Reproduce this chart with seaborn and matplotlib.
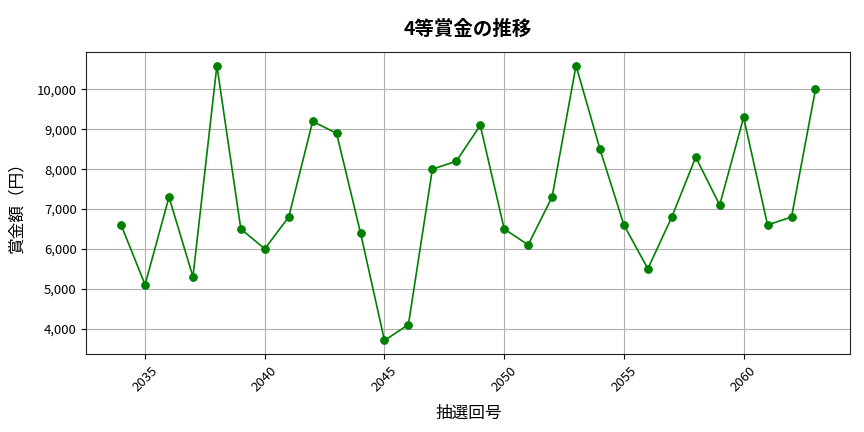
import matplotlib
matplotlib.use("Agg")
import matplotlib.pyplot as plt
import matplotlib.ticker as mticker
import seaborn as sns
import pandas as pd

# 抽選回と4等賞金
draws = list(range(2034, 2064))
prizes = [6600, 5100, 7300, 5300, 10600, 6500, 6000, 6800, 9200, 8900,
          6400, 3700, 4100, 8000, 8200, 9100, 6500, 6100, 7300, 10600,
          8500, 6600, 5500, 6800, 8300, 7100, 9300, 6600, 6800, 10000]

df = pd.DataFrame({"draw": draws, "prize": prizes})

sns.set_style("ticks")
plt.rcParams['font.family'] = ['Noto Sans CJK JP', 'DejaVu Sans']
plt.rcParams['text.color'] = 'black'
plt.rcParams['axes.labelcolor'] = 'black'
plt.rcParams['xtick.color'] = 'black'
plt.rcParams['ytick.color'] = 'black'

fig, ax = plt.subplots(figsize=(8.64, 4.32), dpi=100)
sns.lineplot(data=df, x="draw", y="prize", ax=ax, color="green",
             marker="o", markersize=5.5, markeredgecolor="green", linewidth=1.2)

ax.set_title("4等賞金の推移", fontsize=14, fontweight="bold", pad=12)
ax.set_xlabel("抽選回号", fontsize=12, labelpad=8)
ax.set_ylabel("賞金額（円）", fontsize=12, labelpad=8)
ax.yaxis.set_major_formatter(mticker.FuncFormatter(lambda v, p: f"{int(v):,}"))
ax.xaxis.set_major_locator(mticker.MultipleLocator(5))
ax.tick_params(axis="x", labelrotation=45, labelsize=9.5)
ax.tick_params(axis="y", labelsize=9.5)
ax.grid(True, color="#b0b0b0", linewidth=0.8)
for s in ax.spines.values():
    s.set_visible(True)
    s.set_color("#222222")

fig.subplots_adjust(left=0.1, right=0.984, top=0.88, bottom=0.18)
plt.savefig("out.png", dpi=100)
plt.close()
